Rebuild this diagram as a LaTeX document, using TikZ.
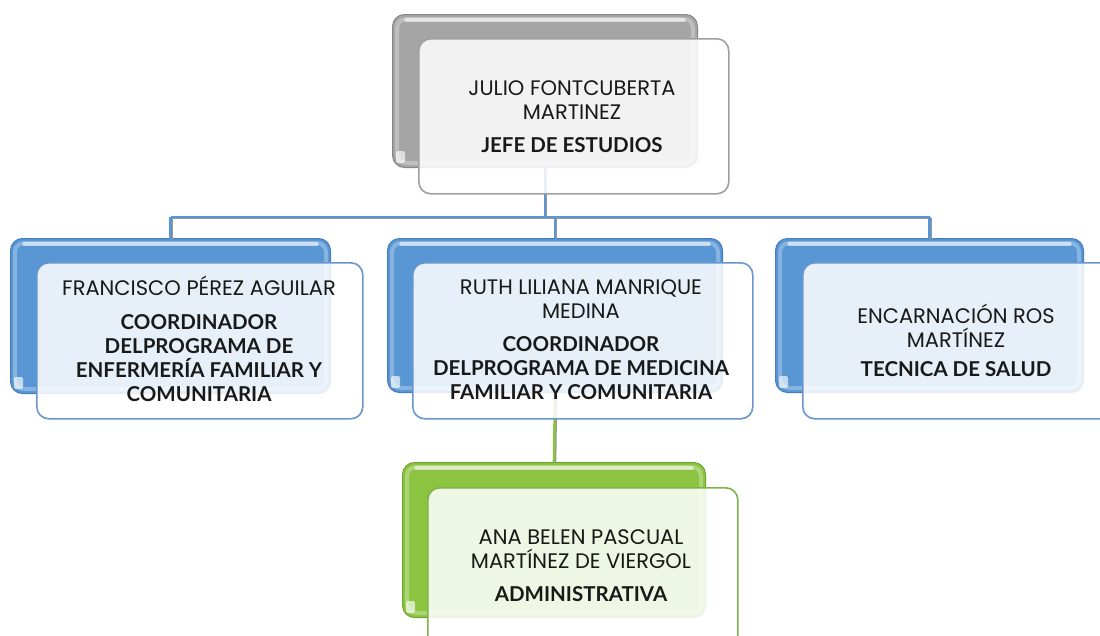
\documentclass[tikz,border=0pt]{standalone}
\usepackage{fontspec}
\newfontfamily\regf{Poppins}
\newfontfamily\latof{Lato}
\newcommand\boldf{\latof\bfseries\fontsize{20.5}{24}\selectfont}
\definecolor{blueA}{RGB}{88,150,212}
\definecolor{blueD}{RGB}{70,125,190}
\definecolor{blueF}{RGB}{105,150,205}
\definecolor{grayA}{RGB}{165,165,165}
\definecolor{grayD}{RGB}{135,135,135}
\definecolor{grayF}{RGB}{160,160,160}
\definecolor{greenA}{RGB}{140,196,66}
\definecolor{greenD}{RGB}{110,165,45}
\definecolor{greenF}{RGB}{125,180,70}
\definecolor{shadowc}{RGB}{150,150,150}
\tikzset{
  backbox/.style={rounded corners=12pt, inner sep=0pt, anchor=north west,
    fill=#1A, draw=#1D, line width=1pt},
  frontbox/.style={rounded corners=12pt, inner sep=0pt, anchor=north west,
    fill=white, fill opacity=0.86, draw=#1F, line width=1.6pt},
  bevel/.style={draw=white, draw opacity=0.28, line width=4pt, rounded corners=9pt},
  hilite/.style={draw=white, draw opacity=0.6, line width=3.5pt, line cap=round},
  spot/.style={fill=white, fill opacity=0.65, rounded corners=2pt},
  conn/.style={draw=#1, line width=2.6pt,
    preaction={draw=shadowc, line width=2.6pt, transform canvas={shift={(1pt,-1pt)}}}},
  txt/.style={align=center, inner sep=0pt, text=black!90,
    font=\regf\fontsize{21}{24}\selectfont},
}
\newcommand\deco[1]{%
  \draw[bevel] ([shift={(5pt,-5pt)}]#1.north west) rectangle ([shift={(-5pt,5pt)}]#1.south east);
  \draw[hilite] ([xshift=14pt,yshift=-6pt]#1.north west) -- ([xshift=-14pt,yshift=-6pt]#1.north east);
  \fill[spot] ([xshift=4pt,yshift=5pt]#1.south west) rectangle ++(9pt,12pt);
}
\begin{document}
\begin{tikzpicture}[x=1pt,y=-1pt]
\useasboundingbox (0,0) rectangle (1100,635);
\clip (0,0) rectangle (1100,635);
% back boxes
\node[backbox=gray, minimum width=305pt, minimum height=153pt] (bT) at (392,14) {};
\node[backbox=blue, minimum width=320pt, minimum height=155pt] (bL) at (10,238) {};
\node[backbox=blue, minimum width=335pt, minimum height=154pt] (bM) at (387,238) {};
\node[backbox=blue, minimum width=308pt, minimum height=154pt] (bR) at (775,238) {};
\node[backbox=green, minimum width=303pt, minimum height=155pt] (bG) at (402,462) {};
\deco{bT}\deco{bL}\deco{bM}\deco{bR}\deco{bG}
% connectors
\coordinate (bus) at (0,217);
\draw[conn=blueA] (bT.south) -- (bT.south |- bus);
\draw[conn=blueA] (bL.north |- bus) -- (bR.north |- bus);
\draw[conn=blueA] (bL.north |- bus) -- (bL.north);
\draw[conn=blueA] (bM.north |- bus) -- (bM.north);
\draw[conn=blueA] (bR.north |- bus) -- (bR.north);
\draw[conn=greenA] (bM.south) -- (bG.north);
% front boxes
\node[frontbox=gray, minimum width=310pt, minimum height=155pt] (fT) at (418,38) {};
\node[frontbox=blue, minimum width=326pt, minimum height=156pt] (fL) at (36,262) {};
\node[frontbox=blue, minimum width=340pt, minimum height=156pt] (fM) at (412,262) {};
\node[frontbox=blue, minimum width=320pt, minimum height=156pt] (fR) at (802,262) {};
\node[frontbox=green, minimum width=310pt, minimum height=170pt] (fG) at (427,487) {};
% texts
\node[txt] (tT) at (572,117) {JULIO FONTCUBERTA\\MARTINEZ\\[9pt]\boldf JEFE DE ESTUDIOS};
\node[txt] (tL) at (199,339) {FRANCISCO PÉREZ AGUILAR\\[10pt]\boldf COORDINADOR\\\boldf DELPROGRAMA DE\\\boldf ENFERMERÍA FAMILIAR Y\\\boldf COMUNITARIA};
\node[txt] (tM) at (581,340) {RUTH LILIANA MANRIQUE\\MEDINA\\[9pt]\boldf COORDINADOR\\\boldf DELPROGRAMA DE MEDICINA\\\boldf FAMILIAR Y COMUNITARIA};
\node[txt] (tR) at (956,340) {ENCARNACIÓN ROS\\MARTÍNEZ\\[5pt]\boldf TECNICA DE SALUD};
\node[txt] (tG) at (581,566) {ANA BELEN PASCUAL\\MARTÍNEZ DE VIERGOL\\[9pt]\boldf ADMINISTRATIVA};
\end{tikzpicture}
\end{document}
